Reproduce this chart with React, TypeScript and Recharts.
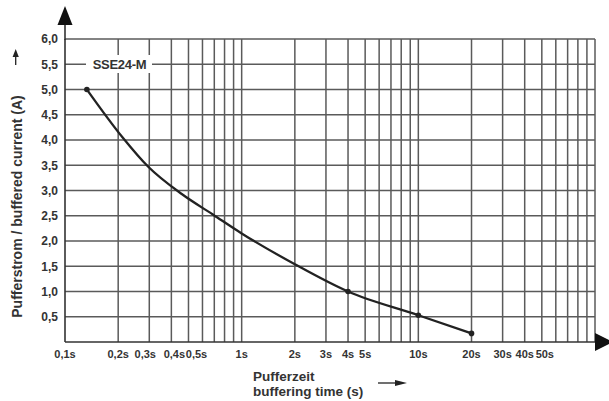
import React from "react";
import { LineChart, Line, XAxis, YAxis, ReferenceLine } from "recharts";

// buffering time (s) vs buffered current (A)
const times = [0.133, 0.212, 0.296, 0.458, 0.69, 1, 2, 4, 10, 20];
const currents = [5.0, 4.05, 3.47, 2.93, 2.52, 2.15, 1.54, 1.0, 0.53, 0.17];
const markedTimes = [0.133, 4, 10, 20];

const xTicks = [0.1, 0.2, 0.3, 0.4, 0.5, 1, 2, 3, 4, 5, 10, 20, 30, 40, 50];
const xTickLabels = ["0,1s", "0,2s", "0,3s", "0,4s", "0,5s", "1s", "2s", "3s", "4s", "5s", "10s", "20s", "30s", "40s", "50s"];
const xGrid = [0.2, 0.3, 0.4, 0.5, 0.6, 0.7, 0.8, 0.9, 1, 2, 3, 4, 5, 6, 7, 8, 9, 10, 20, 30, 40, 50, 60, 70, 80, 90, 100];
const yTicks = [0.5, 1, 1.5, 2, 2.5, 3, 3.5, 4, 4.5, 5, 5.5, 6];

const seriesName = "SSE24-M";
const xTitle1 = "Pufferzeit";
const xTitle2 = "buffering time (s)";
const yTitle = "Pufferstrom / buffered current (A)";

const data = times.map((t, i) => ({ t, i: currents[i] }));

const FONT = '"Liberation Sans", Arial, Helvetica, sans-serif';
const TXT = "#333";
const GRID = "#5a5a5a";

// small horizontal nudges (px) so crowded tick labels don't collide
const labelNudge: Record<string, number> = { "0.3": -4, "0.4": 3, "0.5": 8, "50": 3 };

const XTick = (props: any) => {
  const { x, y, payload } = props;
  const v = payload.value;
  const dx = labelNudge[String(v)] ?? 0;
  return (
    <text
      x={x + dx}
      y={y}
      dy="0.71em"
      textAnchor="middle"
      fill={TXT}
      fontSize={11}
      fontWeight={700}
      fontFamily={FONT}
    >
      {xTickLabels[xTicks.indexOf(v)] ?? ""}
    </text>
  );
};

const Dot = (props: any) => {
  const { cx, cy, payload } = props;
  if (!markedTimes.includes(payload.t)) return <g key={`d${payload.t}`} />;
  return <circle key={`d${payload.t}`} cx={cx} cy={cy} r={2.8} fill="#222" stroke="none" />;
};

export default function App() {
  return (
    <div style={{ position: "absolute", left: 0, top: 0, width: 609, height: 401, background: "#fff", fontFamily: FONT }}>
      <LineChart width={609} height={401} data={data} margin={{ top: 39, right: 14, bottom: 0, left: 0 }}>
        {yTicks.map((v) => (
          <ReferenceLine key={`h${v}`} y={v} stroke={GRID} strokeWidth={1.5} />
        ))}
        {xGrid.map((v) => (
          <ReferenceLine key={`v${v}`} x={v} stroke={GRID} strokeWidth={1.5} />
        ))}
        <XAxis
          dataKey="t"
          type="number"
          scale="log"
          domain={[0.1, 100]}
          allowDataOverflow
          ticks={xTicks}
          height={59}
          tickLine={false}
          tickSize={0}
          tickMargin={8}
          axisLine={{ stroke: "#333", strokeWidth: 1.6 }}
          tick={<XTick />}
          interval={0}
        />
        <YAxis
          type="number"
          domain={[0, 6]}
          ticks={yTicks}
          tickFormatter={(v: number) => v.toFixed(1).replace(".", ",")}
          width={65}
          tickLine={false}
          tickSize={0}
          tickMargin={7}
          axisLine={{ stroke: "#333", strokeWidth: 1.6 }}
          tick={{ fill: TXT, fontSize: 12, fontWeight: 700, fontFamily: FONT }}
          interval={0}
        />
        <Line
          type="monotone"
          dataKey="i"
          stroke="#222"
          strokeWidth={2.3}
          dot={<Dot />}
          activeDot={false}
          isAnimationActive={false}
        />
      </LineChart>
      <svg width={609} height={401} style={{ position: "absolute", left: 0, top: 0, pointerEvents: "none" }}>
        <line x1={65} y1={24} x2={65} y2={40} stroke="#333" strokeWidth={1.6} />
        <polygon points="65,6 57.5,25 72.5,25" fill="#111" />
        <polygon points="595,333 595,351 613,342" fill="#111" />
        <text
          x={16.5}
          y={206.5}
          transform="rotate(-90 16.5 206.5)"
          textAnchor="middle"
          dominantBaseline="central"
          fontSize={14}
          fontWeight={700}
          fill={TXT}
          fontFamily={FONT}
        >
          {yTitle}
        </text>
        <line x1={15.7} y1={56} x2={15.7} y2={65} stroke="#222" strokeWidth={1.3} />
        <polygon points="15.7,49 12.6,57 18.8,57" fill="#222" />
        <text x={253} y={380.5} fontSize={13.5} fontWeight={700} fill={TXT} fontFamily={FONT}>
          {xTitle1}
        </text>
        <text x={253} y={396} fontSize={13.5} fontWeight={700} fill={TXT} fontFamily={FONT}>
          {xTitle2}
        </text>
        <line x1={378} y1={383} x2={396} y2={383} stroke="#222" strokeWidth={1.3} />
        <polygon points="407,383 395,380 395,386" fill="#222" />
        <rect x={86} y={55} width={66} height={18} fill="#fff" />
        <text
          x={119.5}
          y={64}
          textAnchor="middle"
          dominantBaseline="central"
          fontSize={13}
          fontWeight={700}
          fill={TXT}
          fontFamily={FONT}
          letterSpacing={-0.3}
        >
          {seriesName}
        </text>
      </svg>
    </div>
  );
}
